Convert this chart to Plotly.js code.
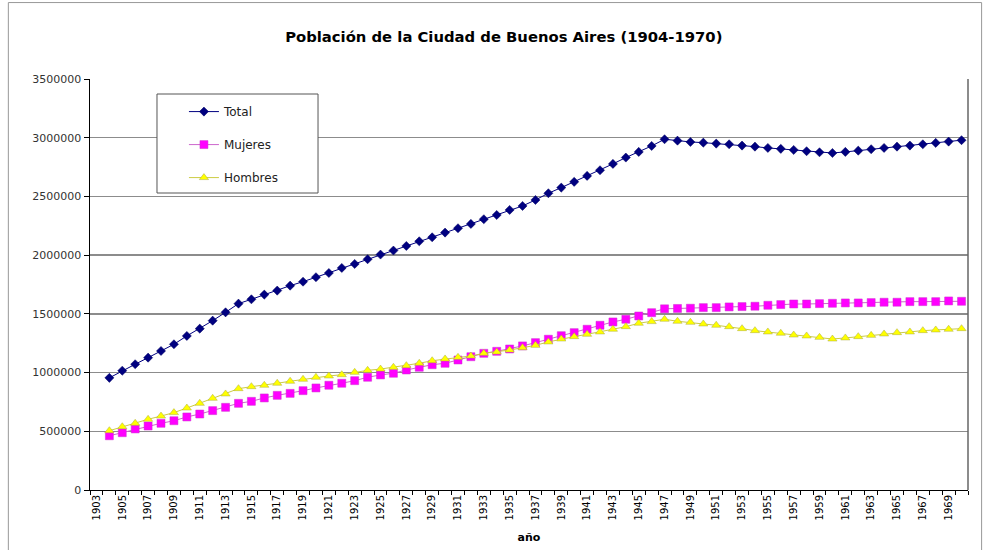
<!DOCTYPE html>
<html>
<head>
<meta charset="utf-8">
<script src="https://cdn.plot.ly/plotly-3.0.1.min.js"></script>
<style>html,body{margin:0;padding:0;background:#fff;}#chart{width:984px;height:550px;}</style>
</head>
<body>
<div id="chart"></div>
<script>
const years = [1904,1905,1906,1907,1908,1909,1910,1911,1912,1913,1914,1915,1916,1917,1918,1919,1920,1921,1922,1923,1924,1925,1926,1927,1928,1929,1930,1931,1932,1933,1934,1935,1936,1937,1938,1939,1940,1941,1942,1943,1944,1945,1946,1947,1948,1949,1950,1951,1952,1953,1954,1955,1956,1957,1958,1959,1960,1961,1962,1963,1964,1965,1966,1967,1968,1969,1970];
const total = [955000,1016000,1071000,1127000,1184000,1241000,1312000,1374000,1442000,1513000,1587000,1624000,1664000,1698000,1740000,1774000,1812000,1848000,1891000,1925000,1965000,2005000,2039000,2078000,2118000,2152000,2192000,2229000,2266000,2306000,2342000,2385000,2419000,2470000,2527000,2575000,2624000,2675000,2723000,2777000,2831000,2879000,2930000,2987000,2975000,2964000,2958000,2950000,2944000,2933000,2924000,2913000,2905000,2896000,2885000,2876000,2870000,2879000,2890000,2902000,2913000,2924000,2933000,2944000,2956000,2967000,2979000];
const mujeres = [462000,488000,520000,545000,568000,590000,622000,647000,676000,704000,738000,755000,784000,806000,823000,846000,869000,892000,909000,931000,960000,980000,994000,1022000,1045000,1067000,1079000,1107000,1135000,1164000,1181000,1201000,1227000,1255000,1284000,1314000,1340000,1369000,1403000,1431000,1454000,1482000,1510000,1543000,1546000,1548000,1553000,1553000,1559000,1562000,1565000,1573000,1579000,1584000,1584000,1587000,1590000,1593000,1593000,1596000,1599000,1599000,1604000,1604000,1604000,1610000,1607000];
const hombres = [505000,539000,568000,602000,630000,659000,698000,738000,781000,818000,863000,880000,892000,909000,926000,943000,960000,971000,982000,1002000,1019000,1030000,1045000,1059000,1079000,1101000,1116000,1130000,1141000,1164000,1175000,1192000,1212000,1232000,1261000,1286000,1306000,1326000,1346000,1369000,1391000,1420000,1434000,1454000,1437000,1428000,1414000,1403000,1391000,1374000,1357000,1346000,1335000,1320000,1312000,1300000,1286000,1295000,1306000,1317000,1329000,1340000,1346000,1357000,1363000,1369000,1374000];
const tickYears = [1903,1905,1907,1909,1911,1913,1915,1917,1919,1921,1923,1925,1927,1929,1931,1933,1935,1937,1939,1941,1943,1945,1947,1949,1951,1953,1955,1957,1959,1961,1963,1965,1967,1969];
const seriesNames = ["Total","Mujeres","Hombres"];

const wideFont = '"DejaVu Sans", Verdana, sans-serif';

const traces = [
  {x: years, y: total, name: seriesNames[0], type: 'scatter', mode: 'lines+markers', legendgroup: 'a',
   line: {color: '#000080', width: 1}, marker: {symbol: 'diamond', size: 7, color: '#000080', line: {width: 0.5, color: '#000060'}}},
  {x: years, y: mujeres, name: seriesNames[1], type: 'scatter', mode: 'lines+markers', legendgroup: 'b',
   line: {color: '#cc66cc', width: 1}, marker: {symbol: 'square', size: 8, color: '#ff00ff', line: {width: 0.5, color: '#cc33cc'}}},
  {x: years, y: hombres, name: seriesNames[2], type: 'scatter', mode: 'lines+markers', legendgroup: 'c',
   line: {color: '#cccc44', width: 1}, marker: {symbol: 'triangle-up', size: 8, color: '#ffff00', line: {width: 0.5, color: '#aaaa44'}}}
];

const layout = {
  width: 984, height: 550,
  margin: {l: 90, r: 16, t: 79, b: 60},
  paper_bgcolor: '#ffffff', plot_bgcolor: '#ffffff',
  font: {family: wideFont, color: '#000'},
  title: {text: '<b>Población de la Ciudad de Buenos Aires (1904-1970)</b>', font: {family: wideFont, size: 14.8, color: '#000'}, x: 0.512, xanchor: 'center', y: 0.933, yanchor: 'middle'},
  showlegend: true,
  legend: {x: 0.107, y: 0.956, xanchor: 'left', yanchor: 'top', bgcolor: 'rgba(0,0,0,0)', borderwidth: 0,
           font: {family: wideFont, size: 12, color: '#222'}, traceorder: 'grouped', tracegroupgap: 14},
  xaxis: {
    type: 'linear', range: [1902.5, 1970.5], tickmode: 'array', tickvals: tickYears, ticktext: tickYears.map(String),
    tickangle: -90, tickfont: {family: wideFont, size: 10, color: '#000'}, ticks: '', showgrid: false, zeroline: false,
    showline: true, linecolor: '#000', linewidth: 1,
    minor: {tick0: 1902.5, dtick: 1, ticks: 'outside', ticklen: 4, tickcolor: '#000', tickwidth: 1, showgrid: false},
    title: {text: '<b>año</b>', font: {family: wideFont, size: 11, color: '#000'}, standoff: 13}
  },
  yaxis: {
    range: [0, 3500000], tickmode: 'linear', tick0: 0, dtick: 500000, tickformat: 'd',
    tickfont: {family: wideFont, size: 11, color: '#333'}, ticks: 'outside', ticklen: 5, tickcolor: '#000',
    showgrid: true, gridcolor: '#8c8c8c', gridwidth: 1.5, zeroline: false,
    showline: true, linecolor: '#000', linewidth: 1.5
  },
  shapes: [
    {type: 'line', xref: 'paper', yref: 'paper', x0: 1, x1: 1, y0: 0, y1: 1, line: {color: '#666', width: 1.5}},
    {type: 'rect', xref: 'paper', yref: 'paper', layer: 'above', x0: 0.0763, x1: 0.2597, y0: 0.7226, y1: 0.9635, fillcolor: '#ffffff', line: {color: '#555', width: 1}},
    {type: 'rect', xref: 'paper', yref: 'paper', x0: -0.093, x1: 1.0155, y0: -0.3, y1: 1.186, line: {color: '#999', width: 1}}
  ]
};

Plotly.newPlot('chart', traces, layout, {displayModeBar: false, staticPlot: true});
</script>
</body>
</html>
